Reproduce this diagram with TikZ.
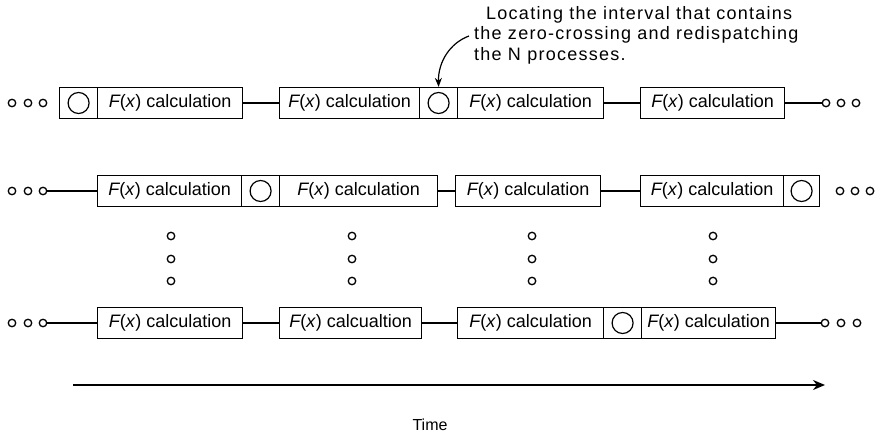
\documentclass[tikz,border=0pt]{standalone}
\usepackage{fontspec}
\setmainfont{Liberation Sans}
\usetikzlibrary{arrows.meta}

\begin{document}
\begin{tikzpicture}[x=1pt,y=-1pt,
  calcbox/.style={draw, line width=1.2pt, minimum height=31pt, inner sep=0pt,
    anchor=west, font=\fontsize{18}{21}\selectfont},
  waitcell/.style={draw, line width=1.2pt, minimum height=31pt, minimum width=38pt,
    inner sep=0pt, anchor=west},
  syncmark/.style={circle, draw, line width=1.2pt, minimum size=21pt, inner sep=0pt},
  dot/.style={circle, draw, line width=1.3pt, minimum size=7.5pt, inner sep=0pt, fill=white},
  link/.style={line width=2.4pt},
  note/.style={font=\fontsize{18}{20.5}\selectfont\addfontfeature{LetterSpace=7},
    align=left, anchor=north west, inner sep=0pt}]
\useasboundingbox (0,0) rectangle (876,438);
\newcommand{\Fx}{{\itshape F}(\textit{x})}

% ---------- first row ----------
\node[dot] (a1) at (12,103) {};
\node[dot] (a2) at (28,103) {};
\node[dot] (a3) at (43,103) {};
\node[waitcell] (ac1) at (59,103) {};
\node[syncmark] at (ac1) {};
\node[calcbox, minimum width=145pt] (ab1) at (97,103) {\Fx\ calculation};
\node[calcbox, minimum width=140pt] (ab2) at (279,103) {\Fx\ calculation};
\node[waitcell] (ac2) at (419,103) {};
\node[syncmark] at (ac2) {};
\node[calcbox, minimum width=146pt] (ab3) at (457,103) {\Fx\ calculation};
\node[calcbox, minimum width=144pt] (ab4) at (640,103) {\Fx\ calculation};
\node[dot] (a4) at (826,103) {};
\node[dot] (a5) at (841,103) {};
\node[dot] (a6) at (856,103) {};
\draw[link] (ab1.east) -- (ab2.west);
\draw[link] (ab3.east) -- (ab4.west);
\draw[link] (ab4.east) -- (a4.west);

% ---------- second row ----------
\node[dot] (b1) at (12,191) {};
\node[dot] (b2) at (28,191) {};
\node[dot] (b3) at (43,191) {};
\node[calcbox, minimum width=144pt] (bb1) at (97,191) {\Fx\ calculation};
\node[waitcell] (bc1) at (241,191) {};
\node[syncmark] at (bc1) {};
\node[calcbox, minimum width=158pt] (bb2) at (279,191) {\Fx\ calculation};
\node[calcbox, minimum width=145pt] (bb3) at (455,191) {\Fx\ calculation};
\node[calcbox, minimum width=143pt] (bb4) at (640,191) {\Fx\ calculation};
\node[waitcell, minimum width=36pt] (bc2) at (783,191) {};
\node[syncmark] at (bc2) {};
\node[dot] (b4) at (840,191) {};
\node[dot] (b5) at (855,191) {};
\node[dot] (b6) at (870,191) {};
\draw[link] (b3.east) -- (bb1.west);
\draw[link] (bb2.east) -- (bb3.west);
\draw[link] (bb3.east) -- (bb4.west);

% ---------- processes in between ----------
\foreach \px [count=\i] in {171,352,532,713}{
  \node[dot] (v\i a) at (\px,236) {};
  \node[dot] (v\i b) at (\px,259) {};
  \node[dot] (v\i c) at (\px,281) {};
}

% ---------- last row ----------
\node[dot] (c1) at (12,323) {};
\node[dot] (c2) at (28,323) {};
\node[dot] (c3) at (43,323) {};
\node[calcbox, minimum width=145pt] (cb1) at (97,323) {\Fx\ calculation};
\node[calcbox, minimum width=142pt] (cb2) at (279,323) {\Fx\ calcualtion};
\node[calcbox, minimum width=146pt] (cb3) at (457,323) {\Fx\ calculation};
\node[waitcell] (cc1) at (603,323) {};
\node[syncmark] at (cc1) {};
\node[calcbox, minimum width=134pt] (cb4) at (641,323) {\Fx\ calculation};
\node[dot] (c4) at (825,323) {};
\node[dot] (c5) at (841,323) {};
\node[dot] (c6) at (857,323) {};
\draw[link] (c3.east) -- (cb1.west);
\draw[link] (cb1.east) -- (cb2.west);
\draw[link] (cb2.east) -- (cb3.west);
\draw[link] (cb4.east) -- (c4.west);

% ---------- annotation ----------
\node[note] (note) at (474,6) {\hspace*{12pt}Locating the interval that contains\\
  the zero-crossing and redispatching\\
  the N processes.};
\coordinate (nstart) at (469,36);
\draw[line width=1.2pt, -{Stealth[length=9pt,width=7pt]}]
  (nstart) .. controls (450,43) and (438,62) .. (ac2.north);

% ---------- time axis ----------
\coordinate (t0) at (73,385);
\coordinate (t1) at (825,385);
\draw[line width=2.6pt, -{Stealth[length=12pt,width=10pt]}] (t0) -- (t1);
\node[font=\fontsize{16}{18}\selectfont] (time) at (430,425) {Time};
\end{tikzpicture}
\end{document}
